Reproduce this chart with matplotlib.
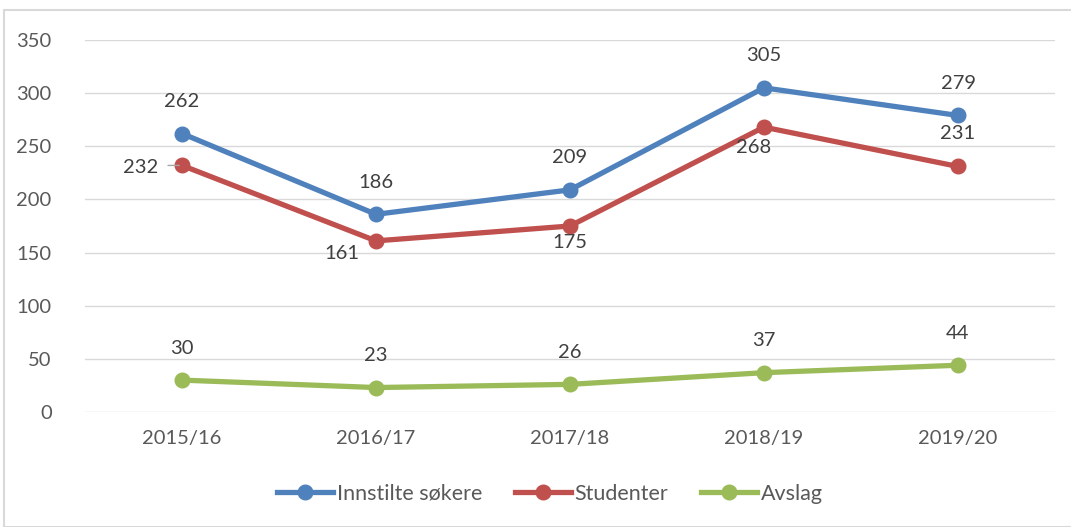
import matplotlib
matplotlib.use("Agg")
import matplotlib.pyplot as plt
from matplotlib.patches import Rectangle

years = ["2015/16", "2016/17", "2017/18", "2018/19", "2019/20"]
innstilte = [262, 186, 209, 305, 279]
studenter = [232, 161, 175, 268, 231]
avslag = [30, 23, 26, 37, 44]
series_names = ["Innstilte søkere", "Studenter", "Avslag"]

plt.rcParams['font.family'] = ['Lato', 'DejaVu Sans']
fig = plt.figure(figsize=(10.71, 5.27), dpi=100)
ax = fig.add_axes([85/1071, 1-412/527, (1055-85)/1071, (412-40)/527])

blue, red, green = "#4F81BD", "#C0504D", "#9BBB59"
x = list(range(len(years)))
ax.plot(x, innstilte, color=blue, lw=3.8, marker='o', ms=10.5, label=series_names[0], zorder=3)
ax.plot(x, studenter, color=red, lw=3.8, marker='o', ms=10.5, label=series_names[1], zorder=3)
ax.plot(x, avslag, color=green, lw=3.8, marker='o', ms=10.5, label=series_names[2], zorder=3)

PT = 0.72  # points per pixel at dpi 100
FS = 14.5
lab_kw = dict(fontsize=FS, color="#404040", textcoords='offset points', va='center')

for i, v in enumerate(innstilte):
    ax.annotate(str(v), (i, v), xytext=(0, 32*PT), ha='center', **lab_kw)

# Studenter label offsets in pixels (dx, dy) relative to marker centre
red_off = [(-24, -2), (-34, -13), (0, -17), (-10, -20), (0, 33)]
for i, v in enumerate(studenter):
    dx, dy = red_off[i]
    ha = 'right' if i == 0 else 'center'
    ax.annotate(str(v), (i, v), xytext=(dx*PT, dy*PT), ha=ha, **lab_kw)
# leader line for first Studenter label
ax.annotate("", (0, studenter[0]), xytext=(-14*PT, 0), textcoords='offset points',
            arrowprops=dict(arrowstyle='-', color="#A6A6A6", lw=1, shrinkA=0, shrinkB=2))

for i, v in enumerate(avslag):
    ax.annotate(str(v), (i, v), xytext=(0, 32*PT), ha='center', **lab_kw)

ax.set_xlim(-0.5, len(years)-0.5)
ax.set_ylim(0, 350)
ax.set_yticks(range(0, 351, 50))
ax.set_xticks(x)
ax.set_xticklabels(years)
ax.tick_params(axis='both', length=0, labelsize=FS, labelcolor="#595959")
ax.tick_params(axis='y', pad=24)
ax.tick_params(axis='x', pad=13)
ax.grid(axis='y', color="#D9D9D9", lw=1)
ax.set_axisbelow(True)
for s in ax.spines.values():
    s.set_visible(False)

leg = fig.legend(loc='center', bbox_to_anchor=(550/1071, 1-494/527), ncol=3, frameon=False,
                 fontsize=15.5, handlelength=2.6, columnspacing=1.5, handletextpad=0.18,
                 labelcolor="#595959")

fig.patches.append(Rectangle((4/1071, 0), 1.2, 1-10/527, transform=fig.transFigure,
                             fill=False, edgecolor="#D9D9D9", lw=1.5))

fig.savefig("out.png", dpi=100)
